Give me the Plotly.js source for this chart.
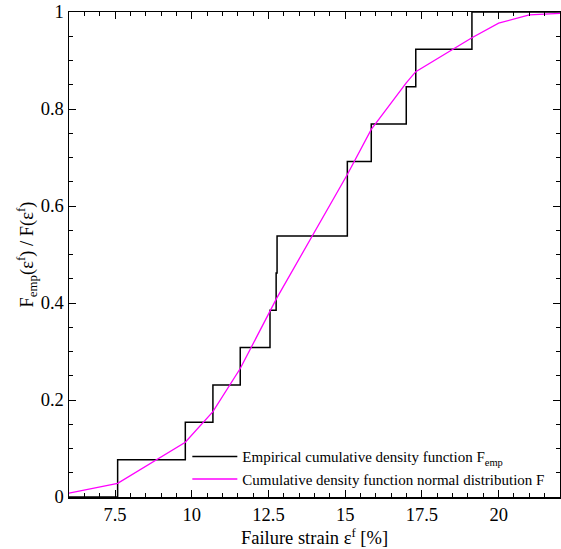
<!DOCTYPE html>
<html>
<head>
<meta charset="utf-8">
<script src="https://cdn.plot.ly/plotly-3.0.1.min.js"></script>
<style>html,body{margin:0;padding:0;background:#fff;}#plot{width:561px;height:549px;}</style>
</head>
<body>
<div id="plot"></div>
<script>
// Empirical CDF (step function)
var empStrain = [6, 7.585, 9.79, 10.69, 11.58, 12.55, 12.75, 12.78, 15.07, 15.07, 15.85, 16.99, 17.30, 19.13, 22];
var empF      = [0, 0.077, 0.154, 0.231, 0.308, 0.385, 0.462, 0.538, 0.615, 0.692, 0.769, 0.846, 0.923, 1.0, 1.0];

// Normal distribution CDF (read at nodes)
var normStrain = [6, 7.585, 9.79, 10.69, 11.58, 12.55, 12.77, 15.07, 15.85, 16.99, 17.30, 19.13, 20.0, 21.0, 22.0];
var normF      = [0.008, 0.028, 0.113, 0.176, 0.265, 0.385, 0.41, 0.665, 0.758, 0.854, 0.877, 0.947, 0.977, 0.994, 0.997];

var xTickVals = [7.5, 10, 12.5, 15, 17.5, 20];
var xTickText = ['7.5', '10', '12.5', '15', '17.5', '20'];
var yTickVals = [0, 0.2, 0.4, 0.6, 0.8, 1];
var yTickText = ['0', '0.2', '0.4', '0.6', '0.8', '1'];

var serif = 'Liberation Serif';

var traces = [
  {
    x: empStrain, y: empF, mode: 'lines', line: {shape: 'hv', color: '#000000', width: 1.5},
    name: 'Empirical cumulative density function F<sub>emp</sub>'
  },
  {
    x: normStrain, y: normF, mode: 'lines', line: {color: '#ff00ff', width: 1.3},
    name: 'Cumulative density function normal distribution F'
  }
];

var axisCommon = {
  showline: true, linecolor: '#000', linewidth: 1.5, mirror: 'ticks',
  ticks: 'inside', ticklen: 7, tickwidth: 1, tickcolor: '#000',
  showgrid: false, zeroline: false,
  tickfont: {family: serif, size: 18.5, color: '#000'}
};

var layout = {
  width: 561, height: 549,
  margin: {l: 69, r: 1, t: 12, b: 52},
  paper_bgcolor: '#fff', plot_bgcolor: '#fff',
  font: {family: serif, color: '#000'},
  showlegend: true,
  legend: {
    x: 0.241, y: 0.117, xanchor: 'left', yanchor: 'top',
    bgcolor: 'rgba(0,0,0,0)', borderwidth: 0, itemwidth: 45,
    font: {family: serif, size: 15, color: '#000'},
    tracegroupgap: 0
  },
  xaxis: Object.assign({}, axisCommon, {
    range: [6, 22], tickvals: xTickVals, ticktext: xTickText,
    minor: {dtick: 0.5, ticklen: 4, tickcolor: '#000', ticks: 'inside', tickwidth: 1},
    title: {text: 'Failure strain ε<sup>f</sup> [%]', font: {family: serif, size: 18.5, color: '#000'}, standoff: 0}
  }),
  yaxis: Object.assign({}, axisCommon, {
    range: [0, 1], tickvals: yTickVals, ticktext: yTickText,
    minor: {dtick: 0.05, ticklen: 4, tickcolor: '#000', ticks: 'inside', tickwidth: 1},
    title: {text: 'F<sub>emp</sub>(ε<sup>f</sup>) / F(ε<sup>f</sup>)', font: {family: serif, size: 18.5, color: '#000'}, standoff: 2}
  })
};

Plotly.newPlot('plot', traces, layout, {displayModeBar: false, staticPlot: true});
</script>
</body>
</html>
